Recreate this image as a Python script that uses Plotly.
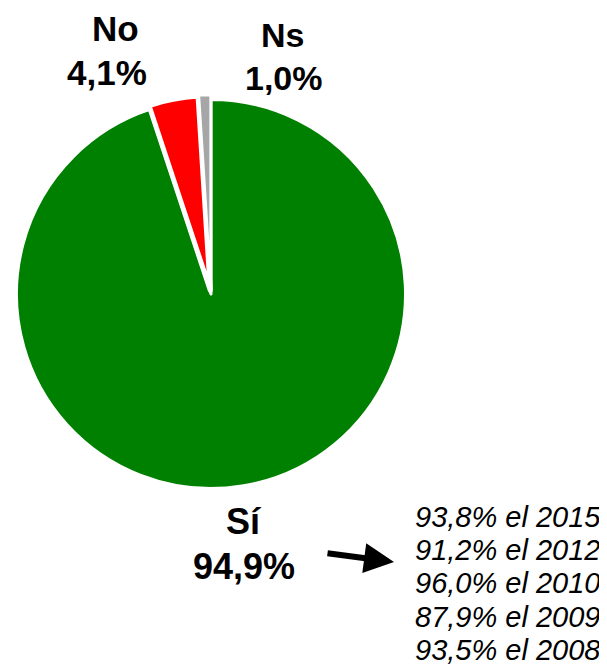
import plotly.graph_objects as go

# ---- data ----
labels = ["Sí", "No", "Ns"]
values = [94.9, 4.1, 1.0]
colors = ["#008000", "#FF0000", "#A6A6A6"]
pulls = [0.0, 0.02, 0.025]
edge_widths = [3, 5, 3]

hist_values = [93.8, 91.2, 96.0, 87.9, 93.5]
hist_years = ["2015", "2012", "2010", "2009", "2008"]

W, H = 607, 669
OFF = 8  # page body margin in the browser


def fmt(v):
    return f"{v:.1f}".replace(".", ",") + "%"


def px(x):
    return (x - OFF) / W


def py(y):
    return 1 - (y - OFF) / H


# pie geometry (center & radius in pixels of the page)
cx, cy, r = 211, 294, 194.5
half = r * (1 + max(pulls))

fig = go.Figure(
    go.Pie(
        labels=labels,
        values=values,
        sort=False,
        direction="clockwise",
        rotation=0,
        pull=pulls,
        marker=dict(colors=colors, line=dict(color="white", width=edge_widths)),
        textinfo="none",
        hoverinfo="label+percent",
        showlegend=False,
        domain=dict(x=[px(cx - half), px(cx + half)], y=[py(cy + half), py(cy - half)]),
    )
)

annotations = []
# slice labels: (name line pos, value line pos, font size)
label_pos = {
    "Sí": ((243.5, 521.5), (244, 566.5), 36),
    "No": ((115, 28.5), (107, 72.5), 35),
    "Ns": ((282, 35), (283.5, 77.5), 34),
}
for lab, val in zip(labels, values):
    (x1, y1), (x2, y2), fs = label_pos[lab]
    for txt, (x, y) in ((lab, (x1, y1)), (fmt(val), (x2, y2))):
        annotations.append(
            dict(
                text=f"<b>{txt}</b>",
                x=px(x), y=py(y), xref="paper", yref="paper",
                xanchor="center", yanchor="middle", showarrow=False,
                font=dict(family="Liberation Sans, Arial, sans-serif", size=fs, color="black"),
            )
        )

# history lines
for i, (v, yr) in enumerate(zip(hist_values, hist_years)):
    annotations.append(
        dict(
            text=f"<i>{fmt(v)} el {yr}</i>",
            x=px(413), y=py(516.8 + i * 33.33), xref="paper", yref="paper",
            xanchor="left", yanchor="middle", showarrow=False,
            font=dict(family="Liberation Sans, Arial, sans-serif", size=29, color="black"),
        )
    )

# arrow
annotations.append(
    dict(
        text="", x=px(394), y=py(562), xref="paper", yref="paper",
        ax=-68, ay=-9, showarrow=True,
        arrowhead=2, arrowsize=1, arrowwidth=6, arrowcolor="black",
    )
)

fig.update_layout(
    width=W, height=H,
    margin=dict(l=0, r=0, t=0, b=0),
    paper_bgcolor="white", plot_bgcolor="white",
    annotations=annotations,
)

fig.write_html("out.html")
